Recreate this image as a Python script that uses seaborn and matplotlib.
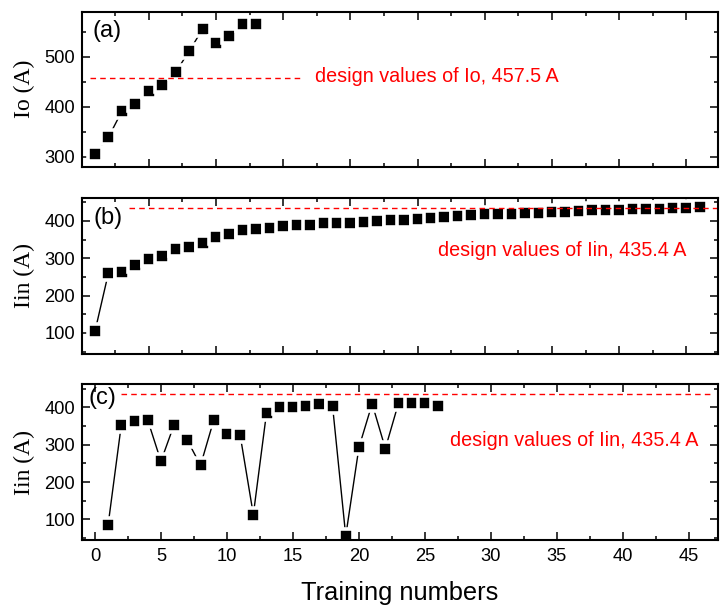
import numpy as np
import pandas as pd
import matplotlib
matplotlib.use("Agg")
import matplotlib.pyplot as plt
from matplotlib.ticker import FixedLocator, MultipleLocator
import seaborn as sns

# ---------------- data ----------------
x_a = list(range(0, 13))
io_a = [305, 339, 391, 405, 432, 443, 469, 511, 555, 528, 542, 565, 565]

x_b = list(range(0, 46))
iin_b = [105, 261, 262, 283, 299, 307, 324, 331, 342, 358, 364, 376, 378,
         382, 387, 390, 390, 393, 393, 395, 396, 399, 402, 403, 404, 409,
         410, 412, 416, 418, 419, 419, 421, 422, 424, 425, 426, 428, 429,
         430, 431, 431, 432, 434, 435, 437]

x_c = list(range(1, 27))
iin_c = [86, 354, 363, 366, 256, 354, 312, 245, 366, 328, 326, 113, 386,
         402, 402, 404, 409, 404, 56, 293, 410, 290, 412, 412, 411, 404]

design_io = 457.5
design_iin = 435.4
design_text_a = "design values of Io, 457.5 A"
design_text_b = "design values of Iin, 435.4 A"
design_text_c = "design values of Iin, 435.4 A"
panel_labels = ["(a)", "(b)", "(c)"]
ylabels = ["Io (A)", "Iin (A)", "Iin (A)"]
xlabel = "Training numbers"

# ---------------- style ----------------
sns.set_style("ticks")
plt.rcParams["font.family"] = ["Liberation Sans", "DejaVu Sans"]
plt.rcParams["text.color"] = "black"
plt.rcParams["axes.labelcolor"] = "black"
plt.rcParams["xtick.color"] = "black"
plt.rcParams["ytick.color"] = "black"

W, H = 720, 606
fig = plt.figure(figsize=(W / 100, H / 100), dpi=100)


def px_axes(left, top, right, bottom):
    return fig.add_axes([left / W, 1 - bottom / H, (right - left) / W, (bottom - top) / H])


ax_a = px_axes(82, 11.7, 718, 166.7)
ax_b = px_axes(82, 197.7, 718, 353.5)
ax_c = px_axes(82, 384.3, 718, 540)

df_a = pd.DataFrame({"x": x_a, "y": io_a})
df_b = pd.DataFrame({"x": x_b, "y": iin_b})
df_c = pd.DataFrame({"x": x_c, "y": iin_c})

line_kw = dict(color="black", linewidth=1.0, marker="s", markersize=9.8,
               markerfacecolor="black", markeredgecolor="white",
               markeredgewidth=2.6, estimator=None, sort=False)

for ax, df in [(ax_a, df_a), (ax_b, df_b), (ax_c, df_c)]:
    sns.lineplot(data=df, x="x", y="y", ax=ax, **line_kw)

# design value lines
red = "#ff0000"
ax_a.hlines(design_io, -0.4, 15.4, colors=red, linestyles=(0, (4, 3)), linewidth=1.0)
ax_b.hlines(design_iin, 2.5, 46.35, colors=red, linestyles=(0, (4, 3)), linewidth=1.0)
ax_c.hlines(design_iin, 2.0, 46.7, colors=red, linestyles=(0, (4, 3)), linewidth=1.0)

ax_a.text(16.4, 460, design_text_a, color=red, fontsize=14.2, va="center", ha="left")
ax_b.text(25.5, 322, design_text_b, color=red, fontsize=14.2, va="center", ha="left")
ax_c.text(26.9, 312, design_text_c, color=red, fontsize=14.2, va="center", ha="left")

# limits
ax_a.set_xlim(-0.97, 46.35)
ax_b.set_xlim(-0.97, 46.35)
ax_c.set_xlim(-0.98, 47.2)
ax_a.set_ylim(280, 590)
ax_b.set_ylim(45, 462)
ax_c.set_ylim(45, 462)

# ticks
for ax in (ax_a, ax_b):
    ax.xaxis.set_major_locator(FixedLocator(np.arange(4, 46, 5)))
    ax.xaxis.set_minor_locator(FixedLocator(np.arange(1.5, 46, 5)))
    ax.tick_params(axis="x", which="both", labelbottom=False)
ax_c.xaxis.set_major_locator(MultipleLocator(5))
ax_c.xaxis.set_minor_locator(MultipleLocator(2.5))
for ax in (ax_a, ax_b, ax_c):
    ax.yaxis.set_major_locator(MultipleLocator(100))
    ax.yaxis.set_minor_locator(MultipleLocator(50))

for ax, lab, yl, (tx, ty) in zip((ax_a, ax_b, ax_c), panel_labels, ylabels,
                                 [(0.016, 0.877), (0.018, 0.87), (0.011, 0.912)]):
    for side in ax.spines.values():
        side.set_linewidth(1.5)
        side.set_color("black")
    ax.tick_params(which="both", direction="in", top=True, right=True,
                   width=1.1, colors="black", labelsize=13.2, labelcolor="black")
    ax.tick_params(which="major", length=5.5, pad=5)
    ax.tick_params(which="minor", length=3)
    ax.set_ylabel(yl, fontsize=17, color="black", family=["Liberation Serif", "DejaVu Serif"])
    ax.yaxis.set_label_coords((35 - 82) / 636, 0.5)
    ax.set_xlabel("")
    ax.text(tx, ty, lab, transform=ax.transAxes, fontsize=17, color="black",
            ha="left", va="center")
    ax.grid(False)

ax_c.tick_params(axis="x", which="major", pad=6)
ax_c.set_xlabel(xlabel, fontsize=18.3, color="black", labelpad=11)

fig.savefig("out.png", dpi=100)
